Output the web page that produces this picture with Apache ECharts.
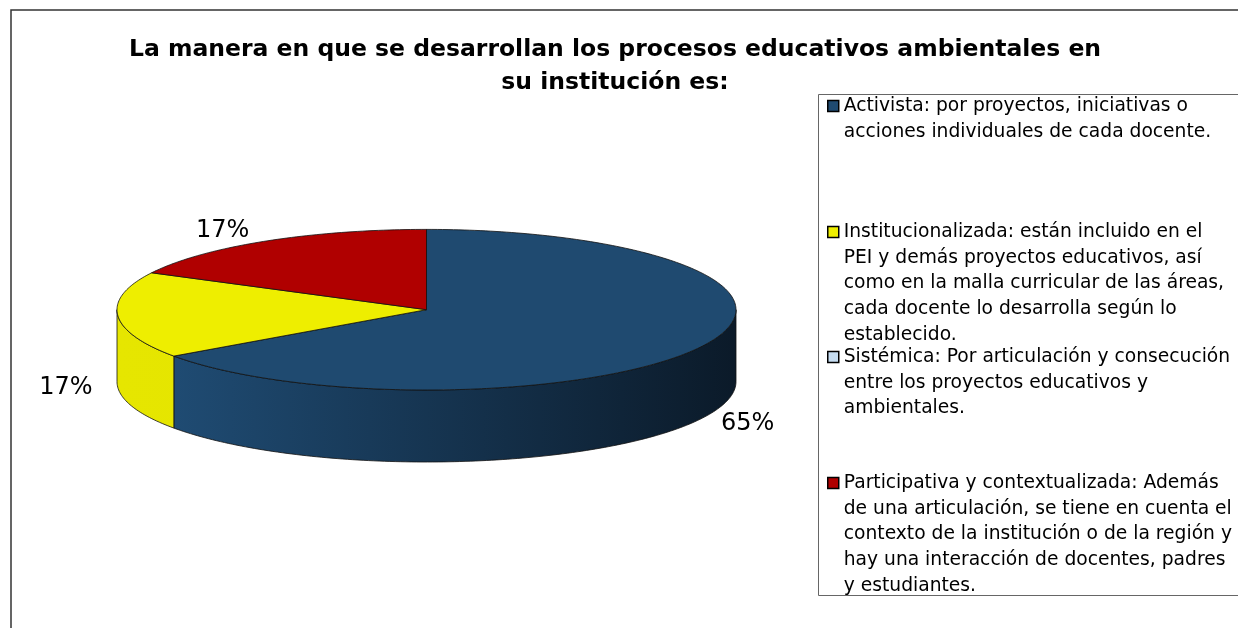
<!DOCTYPE html>
<html>
<head>
<meta charset="utf-8">
<script src="https://cdn.jsdelivr.net/npm/echarts@6/dist/echarts.min.js"></script>
<style>
  html, body { margin: 0; padding: 0; background: #fff; }
  #chart { width: 1238px; height: 628px; }
</style>
</head>
<body>
<div id="chart"></div>
<script>
const titleText = 'La manera en que se desarrollan los procesos educativos ambientales en\nsu institución es:';

const categories = [
  'Activista: por proyectos, iniciativas o acciones individuales de cada docente.',
  'Institucionalizada: están incluido en el PEI y demás proyectos educativos, así como en la malla curricular de las áreas, cada docente lo desarrolla según lo establecido.',
  'Sistémica: Por articulación y consecución entre los proyectos educativos y ambientales.',
  'Participativa y contextualizada: Además de una articulación, se tiene en cuenta el contexto de la institución o de la región y hay una interacción de docentes, padres y estudiantes.'
];

// porcentaje de respuestas
const values = [65.2, 17.4, 0, 17.4];

const legendLines = [
  'Activista: por proyectos, iniciativas o\nacciones individuales de cada docente.',
  'Institucionalizada: están incluido en el\nPEI y demás proyectos educativos, así\ncomo en la malla curricular de las áreas,\ncada docente lo desarrolla según lo\nestablecido.',
  'Sistémica: Por articulación y consecución\nentre los proyectos educativos y\nambientales.',
  'Participativa y contextualizada: Además\nde una articulación, se tiene en cuenta el\ncontexto de la institución o de la región y\nhay una interacción de docentes, padres\ny estudiantes.'
];

const colors = ['#1F4A70', '#EEEE00', '#C6DDF2', '#B00000'];
const wallColors = [['#21507A', '#0B1A29'], ['#E6E600', '#E0E000'], ['#B8CFE4', '#9FB7CC'], ['#A00000', '#700000']];

const pie = { cx: 426.5, cy: 309.7, rx: 309.5, ry: 80.3, depth: 72 };
const total = values.reduce((a, b) => a + b, 0);
const cum = [];
let acc = 0;
values.forEach(v => { cum.push(acc); acc += v; });

const pt = (t, dy) => [pie.cx + pie.rx * Math.sin(t), pie.cy - pie.ry * Math.cos(t) + (dy || 0)];
const arc = (a, b, dy) => {
  const pts = [];
  const n = Math.max(2, Math.ceil((b - a) / (Math.PI / 180)));
  for (let i = 0; i <= n; i++) pts.push(pt(a + (b - a) * i / n, dy));
  return pts;
};

const sliceRenderer = (idx) => (params, api) => {
  const v = api.value(0);
  if (!v) return { type: 'group', children: [] };
  const a = cum[idx] / total * Math.PI * 2;
  const b = a + v / total * Math.PI * 2;
  const children = [];
  // pared frontal visible
  const wa = Math.max(a, Math.PI / 2), wb = Math.min(b, Math.PI * 1.5);
  if (wb > wa) {
    const pts = arc(wa, wb, 0).concat(arc(wa, wb, pie.depth).reverse());
    children.push({
      type: 'polygon',
      shape: { points: pts },
      style: {
        fill: new echarts.graphic.LinearGradient(pie.cx - pie.rx, 0, pie.cx + pie.rx, 0, [
          { offset: 0, color: wallColors[idx][0] },
          { offset: 1, color: wallColors[idx][1] }
        ], true),
        stroke: '#111', lineWidth: 0.8
      }
    });
  }
  children.push({
    type: 'polygon',
    shape: { points: [[pie.cx, pie.cy]].concat(arc(a, b, 0)) },
    style: { fill: colors[idx], stroke: '#111', lineWidth: 0.8 }
  });
  const m = (a + b) / 2;
  const kx = 52 + 36 * Math.max(0, Math.cos(m));
  children.push({
    type: 'text',
    style: {
      text: Math.round(v) + '%',
      x: pie.cx + (pie.rx + kx) * Math.sin(m),
      y: pie.cy - (pie.ry + 12) * Math.cos(m) + (Math.cos(m) < 0 ? pie.depth : 0),
      fontFamily: 'DejaVu Sans', fontSize: 24, fill: '#000',
      align: 'center', verticalAlign: 'middle'
    }
  });
  return { type: 'group', children };
};

const lineH = 25.7;
const firstLineY = [106, 232, 357, 483];

const legends = categories.map((name, i) => {
  const n = legendLines[i].split('\n').length;
  // empty lines above so the marker sits on the first line
  const label = '\n'.repeat(n - 1) + legendLines[i];
  return {
    data: [name],
    orient: 'vertical',
    left: 827,
    top: firstLineY[i] - (2 * n - 1) * lineH / 2,
    padding: 0,
    icon: 'rect',
    itemWidth: 11,
    itemHeight: 11,
    selectedMode: false,
    itemStyle: { borderColor: '#000', borderWidth: 1.5 },
    formatter: () => label,
    textStyle: {
      fontFamily: 'DejaVu Sans', fontSize: 18.7, color: '#000', lineHeight: lineH
    }
  };
});

const chart = echarts.init(document.getElementById('chart'));
chart.setOption({
  backgroundColor: '#fff',
  animation: false,
  title: {
    text: titleText,
    left: 615,
    textAlign: 'center',
    top: 33,
    padding: 0,
    textStyle: { fontFamily: 'DejaVu Sans', fontWeight: 'bold', fontSize: 23.5, lineHeight: 33, color: '#000' }
  },
  graphic: [
    { type: 'rect', shape: { x: 11, y: 10, width: 1400, height: 800 }, style: { fill: 'none', stroke: '#333', lineWidth: 1.5 }, z: -1 },
    { type: 'rect', shape: { x: 818.5, y: 94.5, width: 600, height: 501 }, style: { fill: 'none', stroke: '#666', lineWidth: 1 }, z: -1 }
  ],
  legend: legends,
  series: categories.map((name, i) => ({
    type: 'custom',
    name: name,
    coordinateSystem: 'none',
    itemStyle: { color: colors[i] },
    renderItem: sliceRenderer(i),
    data: [[values[i]]]
  }))
});
</script>
</body>
</html>
